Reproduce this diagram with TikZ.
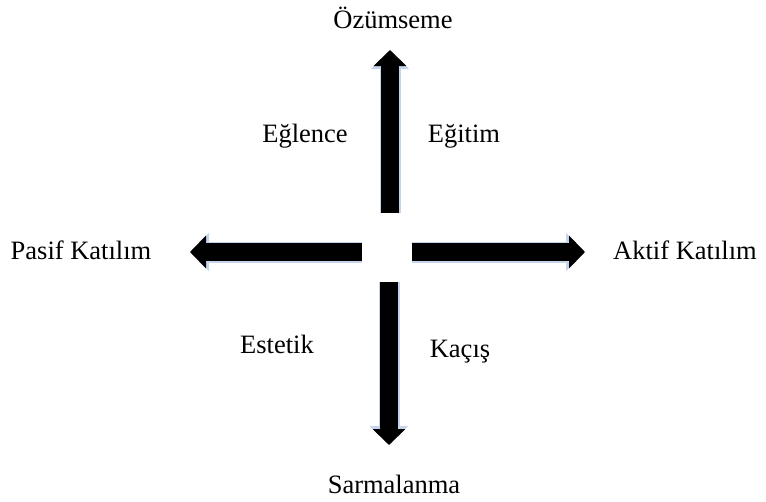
\documentclass[tikz,border=0pt]{standalone}
\usepackage{fontspec}
\setmainfont{Liberation Serif}
\usetikzlibrary{arrows.meta}
\definecolor{hale}{RGB}{196,212,234}
\begin{document}
\begin{tikzpicture}[x=1pt,y=-1pt,
    etiket/.style={font=\fontsize{26.5}{30}\selectfont,inner sep=0pt,anchor=base},
    ok/.style={line width=18pt,-{Triangle[width=32pt,length=16pt]},
      preaction={draw=hale,line width=21pt,-{Triangle[width=37pt,length=19pt]}}}]
  \useasboundingbox (0,0) rectangle (766,501);

  % Eksen uclari
  \coordinate (u0) at (390,213);  \coordinate (u1) at (390,50);
  \coordinate (a0) at (389,282);  \coordinate (a1) at (389,445);
  \coordinate (s0) at (362,252);  \coordinate (s1) at (190,252);
  \coordinate (g0) at (412,252);  \coordinate (g1) at (585,252);

  % Etiketler (taban cizgisine gore)
  \node[etiket] (ozum) at (393,28) {Özümseme};
  \node[etiket] (sarma) at (394,493) {Sarmalanma};
  \node[etiket] (pasif) at (81,259) {Pasif Katılım};
  \node[etiket] (aktif) at (685,259) {Aktif Katılım};
  \node[etiket] (eglence) at (305,142) {Eğlence};
  \node[etiket] (egitim) at (464,142) {Eğitim};
  \node[etiket] (estetik) at (277,353) {Estetik};
  \node[etiket] (kacis) at (460,357) {Kaçış};

  % Oklar
  \draw[ok] (u0) -- (u1);
  \draw[ok] (a0) -- (a1);
  \draw[ok] (s0) -- (s1);
  \draw[ok] (g0) -- (g1);
\end{tikzpicture}
\end{document}
